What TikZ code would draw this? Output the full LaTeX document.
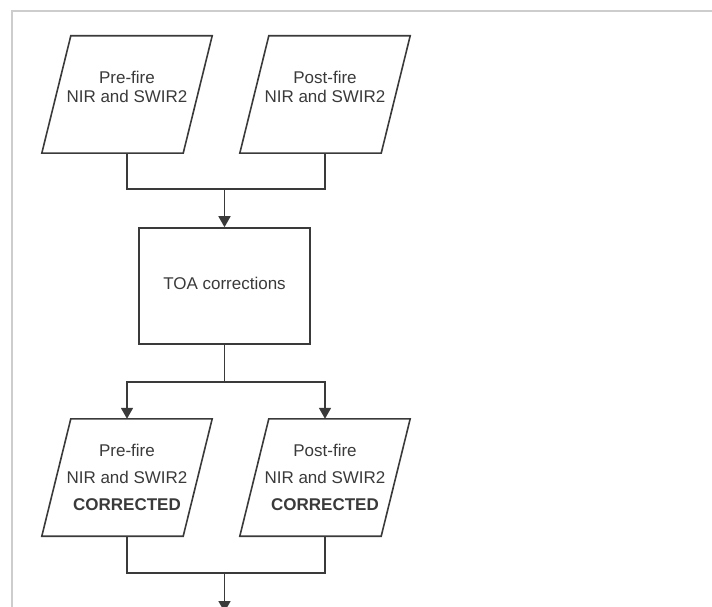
\documentclass[tikz,border=0pt]{standalone}
\usepackage{fontspec}
\setmainfont{Liberation Sans}
\usepackage{tikz}
\usepackage{xcolor}
\usetikzlibrary{arrows.meta}
\definecolor{inkgray}{RGB}{58,58,58}
\definecolor{framegray}{RGB}{205,205,205}
\newcommand{\paraframe}[1]{%
  \draw[link] ([xshift=14.5pt]#1.north west) -- ([xshift=14.5pt]#1.north east)
    -- ([xshift=-14.5pt]#1.south east) -- ([xshift=-14.5pt]#1.south west) -- cycle;}

\begin{document}
\begin{tikzpicture}[
    x=1pt, y=-1pt,
    every node/.style={text=inkgray},
    para/.style={minimum width=141pt,minimum height=117pt,inner sep=0pt,
      align=center},
    paratop/.style={para,font=\fontsize{17}{19}\selectfont,text depth=15pt},
    parabot/.style={para,font=\fontsize{17}{27}\selectfont},
    box/.style={draw=inkgray,line width=1.6pt,minimum width=171pt,
      minimum height=116pt,align=center,font=\fontsize{17}{19}\selectfont,
      text depth=6pt},
    link/.style={draw=inkgray,line width=1.6pt},
    arr/.style={link,-{Triangle[length=11pt,width=12pt]}}
  ]
    \useasboundingbox (0,0) rectangle (712,607);
    \draw[framegray,line width=1.5pt] (12,620) -- (12,11) -- (720,11);

    \node[paratop] (preraw) at (127,94.5) {Pre-fire\\NIR and SWIR2};
    \node[paratop] (postraw) at (325,94.5) {Post-fire\\NIR and SWIR2};
    \node[box] (toa) at (224.5,286) {TOA corrections};
    \node[parabot] (precor) at (127,477.5)
      {Pre-fire\\NIR and SWIR2\\\textbf{CORRECTED}};
    \node[parabot] (postcor) at (325,477.5)
      {Post-fire\\NIR and SWIR2\\\textbf{CORRECTED}};
    \paraframe{preraw}
    \paraframe{postraw}
    \paraframe{precor}
    \paraframe{postcor}

    \coordinate (joinraw) at (toa.north |- 0,189);
    \coordinate (splittoa) at (toa.south |- 0,382);
    \coordinate (joincor) at (toa.south |- 0,573);
    \coordinate (nextstep) at (toa.south |- 0,612);

    \draw[link] (preraw.south) |- (joinraw) -| (postraw.south);
    \draw[arr] (joinraw) -- (toa);
    \draw[link] (toa) -- (splittoa);
    \draw[arr] (splittoa) -| (precor.north);
    \draw[arr] (splittoa) -| (postcor.north);
    \draw[link] (precor.south) |- (joincor) -| (postcor.south);
    \draw[arr] (joincor) -- (nextstep);
  \end{tikzpicture}
\end{document}
